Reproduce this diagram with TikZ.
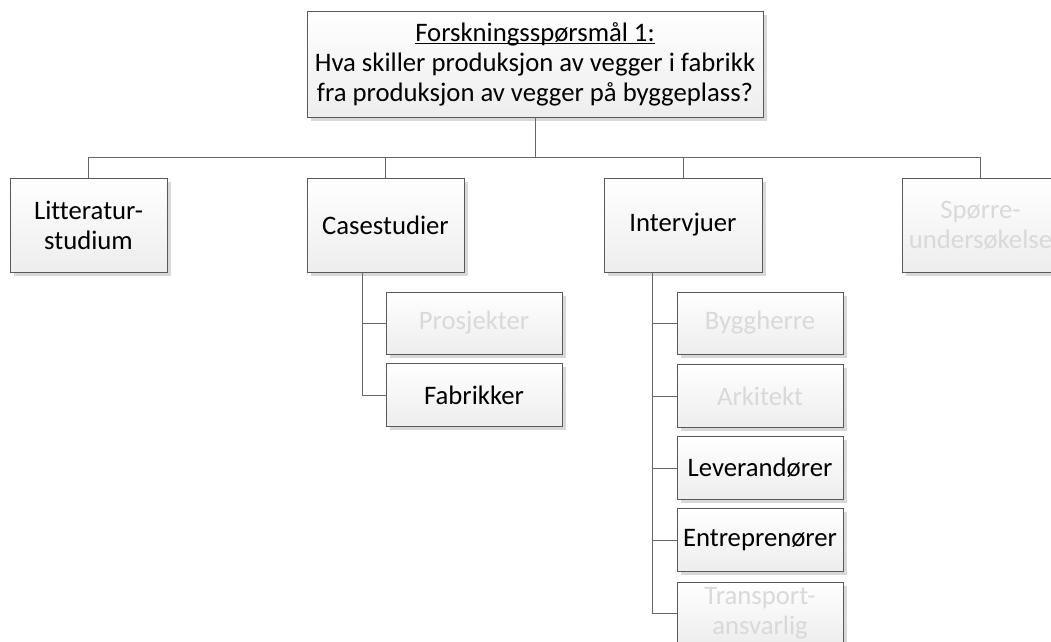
\documentclass[tikz,border=0pt]{standalone}
\usepackage{fontspec}
\setmainfont{Carlito}[Ligatures=NoCommon]
\usetikzlibrary{shadows}
\newlength\ulen
\newcommand\ulined[1]{\settowidth\ulen{#1}\rlap{\rule[-3pt]{\ulen}{1pt}}#1}

\begin{document}
\begin{tikzpicture}[x=1pt,y=-1pt,
  box/.style={draw=black!65, line width=0.9pt, top color=white, bottom color=black!7, inner sep=0pt, align=center,
    font=\fontsize{26.7}{30}\selectfont, drop shadow={shadow xshift=3.5pt, shadow yshift=-3.5pt, fill=black!30, opacity=0.5}},
  faded/.style={text=black!15},
  link/.style={draw=black!60, line width=0.9pt}]
  \useasboundingbox (0,0) rectangle (1051,641); \clip (0,0) rectangle (1051,641);
  \node[box, minimum width=456, minimum height=106] (q) at (535,64) {\ulined{Forskningsspørsmål 1:}\\Hva skiller produksjon av vegger i fabrikk\\fra produksjon av vegger på byggeplass?};
  \node[box, minimum width=157, minimum height=94] (lit) at (88.5,225) {Litteratur-\\studium};
  \node[box, minimum width=157, minimum height=94] (case) at (385.5,225) {Casestudier};
  \node[box, minimum width=158, minimum height=94] (intv) at (683,225) {Intervjuer};
  \node[box, faded, minimum width=157, minimum height=94] (spor) at (980.5,225) {Spørre-\\undersøkelse};
  \node[box, faded, minimum width=176, minimum height=62] (proj) at (474,323) {Prosjekter};
  \node[box, minimum width=176, minimum height=63] (fab) at (474,395) {Fabrikker};
  \node[box, faded, minimum width=166, minimum height=62] (bygg) at (760,323) {Byggherre};
  \node[box, faded, minimum width=166, minimum height=63] (ark) at (760,396) {Arkitekt};
  \node[box, minimum width=166, minimum height=63] (lev) at (760,468) {Leverandører};
  \node[box, minimum width=166, minimum height=63] (entr) at (760,540) {Entreprenører};
  \node[box, faded, minimum width=166, minimum height=63] (trans) at (760,613.5) {Transport-\\ansvarlig};
  \coordinate (bus) at (535,157); \coordinate (cs) at (362,272); \coordinate (is) at (652,272);
  \draw[link] (q.south) -- (bus) -| (lit.north); \draw[link] (bus) -| (case.north);
  \draw[link] (bus) -| (intv.north); \draw[link] (bus) -| (spor.north);
  \draw[link] (cs) |- (proj.west); \draw[link] (cs) |- (fab.west);
  \draw[link] (is) |- (bygg.west); \draw[link] (is) |- (ark.west); \draw[link] (is) |- (lev.west);
  \draw[link] (is) |- (entr.west); \draw[link] (is) |- (trans.west);
\end{tikzpicture}
\end{document}
